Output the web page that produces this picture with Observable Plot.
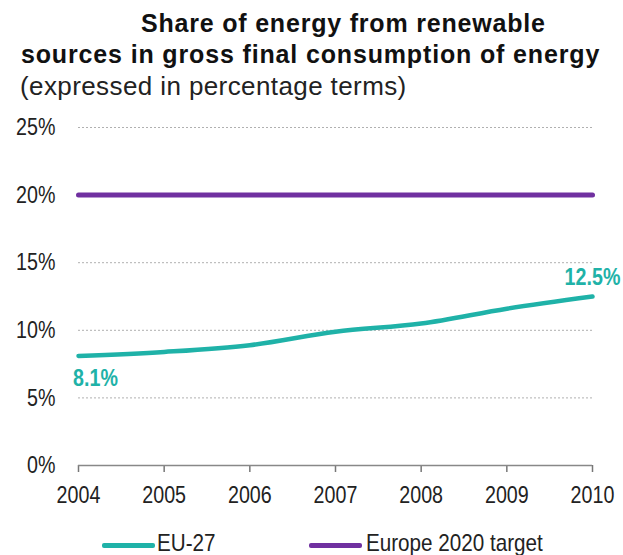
<!DOCTYPE html>
<html>
<head>
<meta charset="utf-8">
<script src="https://cdn.jsdelivr.net/npm/d3@7"></script>
<script src="https://cdn.jsdelivr.net/npm/@observablehq/plot@0.6"></script>
<style>
  body { margin: 0; background: #fff; font-family: "Liberation Sans", Arial, sans-serif; }
  #wrap { position: relative; width: 623px; height: 555px; overflow: hidden; }
  .t { position: absolute; white-space: nowrap; color: #111; line-height: 1; }
  .t1 { left: 141px; top: 11px; font-size: 25px; font-weight: bold; letter-spacing: 0.8px; }
  .t2 { left: 21px; top: 42px; font-size: 25px; font-weight: bold; letter-spacing: 0.85px; }
  .t3 { left: 20px; top: 73px; font-size: 26px; color: #222; letter-spacing: 0.4px; }
  #chart { position: absolute; left: 0; top: 100px; }
  .leg { position: absolute; top: 531px; font-size: 24px; line-height: 1; color: #222; transform: scaleX(0.86); transform-origin: 0 50%; white-space: nowrap; }
  .sw { position: absolute; height: 5px; width: 53px; border-radius: 2px; }
</style>
</head>
<body>
<div id="wrap">
  <div class="t t1">Share of energy from renewable</div>
  <div class="t t2">sources in gross final consumption of energy</div>
  <div class="t t3">(expressed in percentage terms)</div>
  <div id="chart"></div>
  <span class="sw" style="left:102px; top:543px; background:#1fb2a8"></span>
  <div class="leg" style="left:157px">EU-27</div>
  <span class="sw" style="left:309px; top:543px; background:#7030a0"></span>
  <div class="leg" style="left:366px">Europe 2020 target</div>
</div>
<script>
const years = [2004, 2005, 2006, 2007, 2008, 2009, 2010];
const eu27 = [8.1, 8.4, 8.9, 9.9, 10.5, 11.6, 12.5];
const target = [20, 20, 20, 20, 20, 20, 20];
const yTicks = [0, 5, 10, 15, 20, 25];
const gridTicks = [5, 10, 15, 25];
const startLabel = "8.1%";
const endLabel = "12.5%";

const euData = years.map((y, i) => ({year: y, value: eu27[i]}));
const tgData = years.map((y, i) => ({year: y, value: target[i]}));

const teal = "#1fb2a8";
const purple = "#7030a0";

const plot = Plot.plot({
  width: 623,
  height: 420,
  marginTop: 27,
  marginBottom: 55,
  marginLeft: 78,
  marginRight: 31,
  style: { fontFamily: "'Liberation Sans', Arial, sans-serif", fontSize: "24px", color: "#222", background: "white", overflow: "visible" },
  x: { domain: [2004, 2010], label: null },
  y: { domain: [0, 25], label: null },
  marks: [
    Plot.ruleY(gridTicks, { stroke: "#b0b0b0", strokeDasharray: "2,2", strokeWidth: 1 }),
    Plot.axisX({ ticks: years, tickFormat: d => String(d), tickSize: 7, tickPadding: 13, stroke: "#777", strokeWidth: 1.5, fontSize: 24 }),
    Plot.ruleY([0], { stroke: "#888", strokeWidth: 1.5 }),
    Plot.axisY({ ticks: yTicks, tickFormat: d => d + "%", tickSize: 0, tickPadding: 23, fontSize: 24 }),
    Plot.line(tgData, { x: "year", y: "value", stroke: purple, strokeWidth: 5 }),
    Plot.line(euData, { x: "year", y: "value", stroke: teal, strokeWidth: 4.5, curve: "monotone-x" }),
    Plot.text([euData[0]], { x: "year", y: "value", text: () => startLabel, fill: teal, fontWeight: "bold", fontSize: 24, dx: 17, dy: 22 }),
    Plot.text([euData[euData.length - 1]], { x: "year", y: "value", text: () => endLabel, fill: teal, fontWeight: "bold", fontSize: 24, dx: 0, dy: -19 })
  ]
});
// condense the text horizontally (narrow typeface look), scaling each label around its own anchor
plot.querySelectorAll("text").forEach(t => {
  const tr = t.getAttribute("transform") || "";
  t.setAttribute("transform", (tr + " scale(0.82,1)").trim());
});
document.getElementById("chart").appendChild(plot);
</script>
</body>
</html>
